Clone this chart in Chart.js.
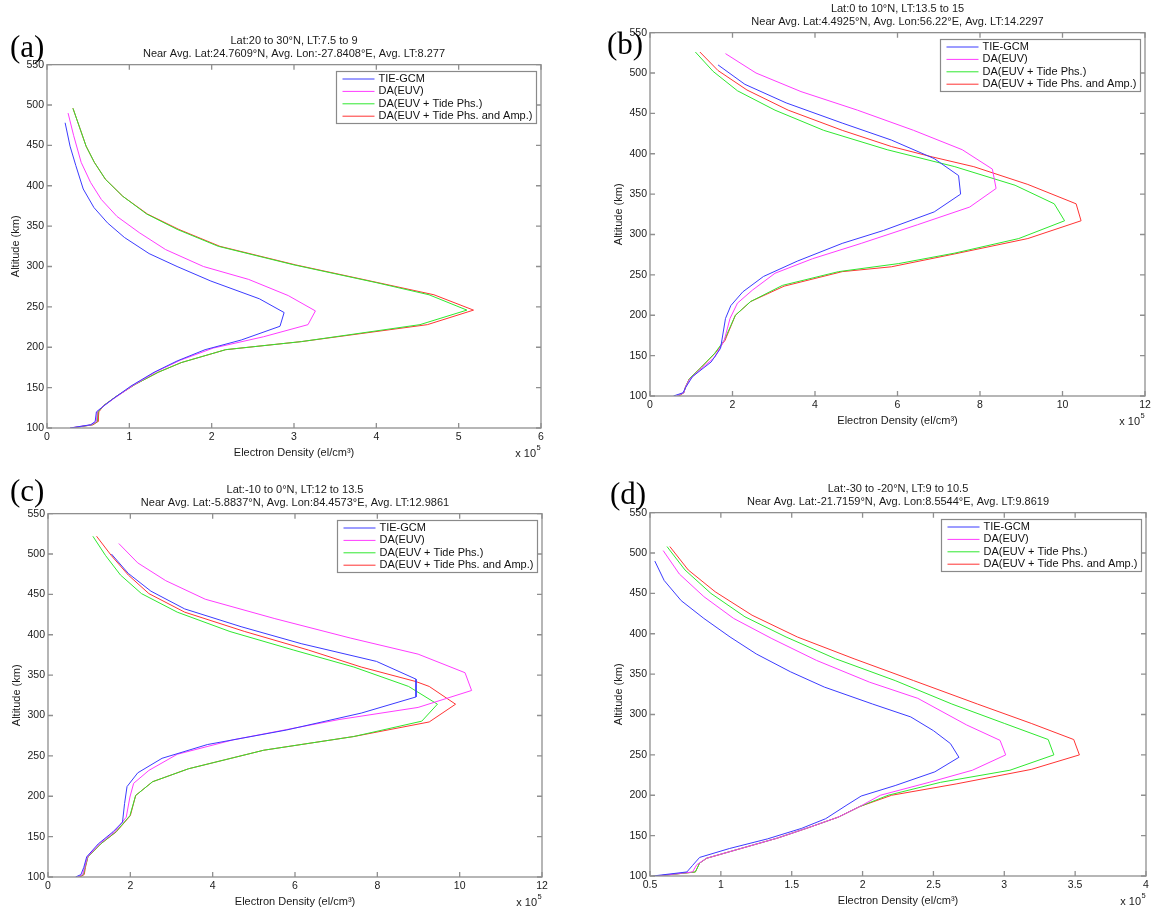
<!DOCTYPE html>
<html>
<head>
<meta charset="utf-8">
<title>Electron density profiles</title>
<script src="https://cdn.jsdelivr.net/npm/chart.js@4.4.1/dist/chart.umd.min.js"></script>
<style>
  html, body { margin: 0; padding: 0; background: #fff; }
  body { position: relative; width: 1167px; height: 912px; overflow: hidden; }
  canvas { position: absolute; }
  .tag { position: absolute; font-family: "Liberation Serif", "Times New Roman", serif; font-size: 31px; line-height: 1; color: #000; }
</style>
</head>
<body>
<canvas id="panelA" width="560" height="438" style="left:0px;top:32px"></canvas>
<canvas id="panelB" width="567" height="438" style="left:600px;top:0px"></canvas>
<canvas id="panelC" width="560" height="438" style="left:0px;top:481px"></canvas>
<canvas id="panelD" width="567" height="438" style="left:600px;top:480px"></canvas>
<div class="tag" style="left:10px;top:31px">(a)</div>
<div class="tag" style="left:607px;top:28px">(b)</div>
<div class="tag" style="left:10px;top:475px">(c)</div>
<div class="tag" style="left:610px;top:478px">(d)</div>

<script>
const seriesLabels = ['TIE-GCM', 'DA(EUV)', 'DA(EUV + Tide Phs.)', 'DA(EUV + Tide Phs. and Amp.)'];
const seriesColors = ['#3b3bff', '#ff3bff', '#2fe82f', '#ff3333'];

// profiles: [electron density (x 10^5 el/cm3), altitude (km)]
// (a) Lat 20 to 30N
const aTieGcm = [[0.22,478],[0.28,449],[0.35,425],[0.44,396],[0.57,373],[0.735,354],[0.94,336],[1.24,316],[1.58,300],[1.99,282],[2.58,260],[2.88,243],[2.83,226],[2.36,209],[1.92,197],[1.58,183],[1.30,169],[1.02,152],[0.80,136],[0.66,125],[0.60,120],[0.585,108],[0.53,104],[0.28,100]];
const aEuv = [[0.256,490],[0.324,462],[0.415,429],[0.53,404],[0.66,383],[0.85,362],[1.12,342],[1.44,321],[1.90,300],[2.45,284],[2.93,264],[3.26,245],[3.17,228],[2.63,213],[2.02,199],[1.62,184],[1.33,170],[1.05,153],[0.82,137],[0.67,126],[0.61,120],[0.60,108],[0.54,104],[0.28,100]];
const aTidePhs = [[0.315,496],[0.39,474],[0.475,449],[0.575,429],[0.71,408],[0.92,387],[1.21,365],[1.58,346],[2.08,325],[3.0,302],[4.0,280],[4.64,265],[5.10,246],[4.53,228],[3.09,207],[2.17,197],[1.63,181],[1.35,169],[1.07,154],[0.84,139],[0.69,128],[0.62,120],[0.61,108],[0.55,104],[0.30,100]];
const aTideAmp = [[0.315,496],[0.39,474],[0.475,449],[0.575,429],[0.71,408],[0.92,387],[1.22,365],[1.60,346],[2.10,325],[3.02,302],[4.02,280],[4.70,265],[5.18,246],[4.62,228],[3.09,207],[2.17,197],[1.63,181],[1.35,169],[1.07,154],[0.84,139],[0.69,128],[0.63,120],[0.62,108],[0.56,104],[0.30,100]];

// (b) Lat 0 to 10N
const bTieGcm = [[1.65,510],[2.30,486],[3.30,463],[4.66,438],[5.85,417],[6.89,394],[7.48,373],[7.53,350],[6.89,328],[5.66,305],[4.66,289],[3.57,267],[2.75,248],[2.25,229],[1.96,212],[1.83,196],[1.71,159],[1.48,142],[1.03,124],[0.87,111],[0.80,104],[0.57,100]];
const bEuv = [[1.83,524],[2.57,500],[3.66,477],[5.03,454],[6.39,429],[7.57,405],[8.30,381],[8.39,357],[7.75,334],[6.48,312],[5.12,289],[3.94,270],[3.03,252],[2.48,231],[2.12,215],[1.94,196],[1.80,169],[1.57,148],[1.20,132],[0.95,120],[0.86,111],[0.82,104],[0.65,100]];
const bTidePhs = [[1.10,526],[1.53,502],[2.12,478],[3.03,454],[4.21,429],[5.75,405],[7.39,384],[8.85,361],[9.80,338],[10.05,317],[8.94,295],[7.39,277],[6.03,264],[4.57,254],[3.21,237],[2.44,217],[2.07,200],[1.80,169],[1.57,153],[1.25,136],[0.95,121],[0.86,111],[0.82,104],[0.68,100]];
const bTideAmp = [[1.21,526],[1.65,503],[2.35,479],[3.35,454],[4.66,429],[5.85,409],[6.85,396],[7.85,384],[9.16,362],[10.33,338],[10.45,317],[9.16,295],[7.39,276],[5.85,260],[4.66,254],[3.25,236],[2.44,217],[2.07,200],[1.82,169],[1.58,153],[1.25,136],[0.95,121],[0.86,111],[0.82,104],[0.70,100]];

// (c) Lat -10 to 0N
const cTieGcm = [[1.54,500],[1.95,476],[2.50,454],[3.32,432],[4.69,410],[6.15,389],[7.98,367],[8.94,345],[8.94,323],[7.61,303],[5.79,282],[3.87,264],[2.77,247],[2.18,229],[1.92,212],[1.86,191],[1.81,168],[1.58,156],[1.22,141],[0.94,125],[0.87,112],[0.80,103],[0.67,100]];
const cEuv = [[1.72,513],[2.18,489],[2.86,467],[3.82,444],[5.51,420],[7.34,396],[8.99,376],[10.13,353],[10.29,331],[8.99,310],[7.07,295],[4.51,270],[3.14,252],[2.45,232],[2.08,216],[1.99,199],[1.90,174],[1.62,156],[1.25,141],[0.96,125],[0.89,112],[0.84,103],[0.72,100]];
const cTidePhs = [[1.09,522],[1.40,498],[1.76,474],[2.27,451],[3.14,428],[4.42,404],[5.97,381],[7.43,360],[8.76,336],[9.46,314],[9.08,293],[7.43,274],[5.24,257],[3.41,234],[2.54,218],[2.13,201],[1.99,176],[1.65,156],[1.28,141],[0.97,125],[0.90,112],[0.86,103],[0.75,100]];
const cTideAmp = [[1.18,522],[1.54,498],[1.95,474],[2.45,451],[3.32,428],[4.78,404],[6.33,381],[7.61,360],[8.94,342],[9.26,336],[9.90,314],[9.26,292],[7.43,274],[5.24,257],[3.41,234],[2.54,218],[2.13,201],[2.00,176],[1.66,156],[1.28,141],[0.97,125],[0.91,112],[0.88,103],[0.78,100]];

// (d) Lat -30 to -20N
const dTieGcm = [[0.534,490],[0.60,466],[0.72,441],[0.88,419],[1.065,396],[1.25,375],[1.49,353],[1.73,334],[2.07,313],[2.34,297],[2.50,280],[2.62,264],[2.68,247],[2.51,229],[2.23,212],[1.99,199],[1.89,188],[1.74,171],[1.57,159],[1.33,146],[1.06,134],[0.85,123],[0.80,113],[0.76,105],[0.52,100]];
const dEuv = [[0.593,503],[0.707,474],[0.88,446],[1.09,419],[1.36,394],[1.675,367],[2.05,340],[2.39,320],[2.735,287],[2.97,268],[3.01,250],[2.775,231],[2.47,216],[2.125,200],[1.98,186],[1.83,173],[1.62,160],[1.40,147],[1.12,133],[0.90,122],[0.83,114],[0.80,105],[0.55,100]];
const dTidePhs = [[0.62,508],[0.747,479],[0.93,450],[1.17,421],[1.46,396],[1.81,369],[2.23,342],[2.63,313],[3.0,289],[3.31,269],[3.35,250],[3.04,231],[2.55,216],[2.18,200],[1.98,186],[1.83,173],[1.62,160],[1.40,147],[1.12,133],[0.90,122],[0.85,116],[0.82,105],[0.55,100]];
const dTideAmp = [[0.64,508],[0.77,479],[0.96,452],[1.22,423],[1.54,396],[1.94,369],[2.36,342],[2.81,313],[3.19,289],[3.49,269],[3.53,250],[3.19,232],[2.66,214],[2.205,200],[1.98,186],[1.83,173],[1.62,160],[1.40,147],[1.12,133],[0.90,122],[0.85,116],[0.82,105],[0.55,100]];

const titleA = ['Lat:20 to 30°N, LT:7.5 to 9', 'Near Avg. Lat:24.7609°N, Avg. Lon:-27.8408°E, Avg. LT:8.277'];
const titleB = ['Lat:0 to 10°N, LT:13.5 to 15', 'Near Avg. Lat:4.4925°N, Avg. Lon:56.22°E, Avg. LT:14.2297'];
const titleC = ['Lat:-10 to 0°N, LT:12 to 13.5', 'Near Avg. Lat:-5.8837°N, Avg. Lon:84.4573°E, Avg. LT:12.9861'];
const titleD = ['Lat:-30 to -20°N, LT:9 to 10.5', 'Near Avg. Lat:-21.7159°N, Avg. Lon:8.5544°E, Avg. LT:9.8619'];

// x axis ranges [min, max, step] in units of 10^5
const xRangeA = [0, 6, 1];
const xRangeB = [0, 12, 2];
const xRangeC = [0, 12, 2];
const xRangeD = [0.5, 4, 0.5];
const altRange = [100, 550, 50];

const SANS = '"Liberation Sans", Arial, Helvetica, sans-serif';
Chart.defaults.font.family = SANS;
Chart.defaults.color = '#1a1a1a';

// box around the axes with inward ticks, the legend and the x10^5 multiplier
const matlabFrame = {
  id: 'matlabFrame',
  afterDatasetsDraw(chart) {
    const { ctx, chartArea, scales } = chart;
    const { left, top, right, bottom } = chartArea;
    ctx.save();
    ctx.strokeStyle = '#8f8f8f';
    ctx.lineWidth = 1.3;
    ctx.strokeRect(left, top, right - left, bottom - top);
    ctx.beginPath();
    scales.x.ticks.forEach(t => {
      const px = scales.x.getPixelForValue(t.value);
      ctx.moveTo(px, bottom); ctx.lineTo(px, bottom - 5);
      ctx.moveTo(px, top); ctx.lineTo(px, top + 5);
    });
    scales.y.ticks.forEach(t => {
      const py = scales.y.getPixelForValue(t.value);
      ctx.moveTo(left, py); ctx.lineTo(left + 5, py);
      ctx.moveTo(right, py); ctx.lineTo(right - 5, py);
    });
    ctx.stroke();

    // legend
    const boxW = 200, boxH = 52;
    const bx = Math.round(right - 5 - boxW), by = Math.round(top + 6);
    ctx.fillStyle = '#fff';
    ctx.fillRect(bx, by, boxW, boxH);
    ctx.strokeStyle = '#8a8a8a';
    ctx.lineWidth = 1.2;
    ctx.strokeRect(bx + 0.5, by + 0.5, boxW, boxH);
    ctx.font = '11px ' + SANS;
    ctx.textBaseline = 'middle';
    ctx.textAlign = 'left';
    chart.data.datasets.forEach((ds, i) => {
      const ly = by + 8 + i * 12.4;
      ctx.strokeStyle = ds.borderColor;
      ctx.lineWidth = 1;
      ctx.beginPath();
      ctx.moveTo(bx + 6.5, ly);
      ctx.lineTo(bx + 38.5, ly);
      ctx.stroke();
      ctx.fillStyle = '#111';
      ctx.fillText(ds.label, bx + 42.5, ly);
    });

    ctx.fillStyle = '#1a1a1a';
    ctx.textAlign = 'right';
    ctx.fillText('x 10', right - 5, bottom + 25.5);
    ctx.textAlign = 'left';
    ctx.font = '7.5px ' + SANS;
    ctx.fillText('5', right - 4.5, bottom + 19.5);
    ctx.restore();
  }
};

function makePanel(id, title, series, xRange, pad) {
  new Chart(document.getElementById(id), {
    type: 'scatter',
    data: {
      datasets: series.map((pts, i) => ({
        label: seriesLabels[i],
        data: pts.map(p => ({ x: p[0], y: p[1] })),
        showLine: true,
        borderColor: seriesColors[i],
        borderWidth: 1,
        pointRadius: 0,
        fill: false,
        tension: 0
      }))
    },
    options: {
      responsive: false,
      animation: false,
      events: [],
      layout: { padding: { left: pad[0], right: pad[1], top: 0, bottom: 8 } },
      plugins: {
        legend: { display: false },
        tooltip: { enabled: false },
        title: {
          display: true,
          text: title,
          fullSize: false,
          color: '#1a1a1a',
          font: { size: 11, weight: 'normal', lineHeight: 1.12 },
          padding: { top: 3, bottom: 5 }
        }
      },
      scales: {
        x: {
          type: 'linear',
          min: xRange[0],
          max: xRange[1],
          grid: { display: false, drawTicks: false },
          border: { display: false },
          ticks: { stepSize: xRange[2], padding: 3, font: { size: 10.5 }, color: '#1a1a1a', callback: v => String(v) },
          title: { display: true, text: 'Electron Density (el/cm³)', font: { size: 11 }, color: '#1a1a1a', padding: { top: 0, bottom: 2 } },
          afterFit: scale => { scale.height = 34; }
        },
        y: {
          type: 'linear',
          min: altRange[0],
          max: altRange[1],
          grid: { display: false, drawTicks: false },
          border: { display: false },
          ticks: { stepSize: altRange[2], padding: 3, font: { size: 10.5 }, color: '#1a1a1a', callback: v => String(v) },
          title: { display: true, text: 'Altitude (km)', font: { size: 11 }, color: '#1a1a1a', padding: 0 },
          afterFit: scale => { scale.width = 38; }
        }
      }
    },
    plugins: [matlabFrame]
  });
}

makePanel('panelA', titleA, [aTieGcm, aEuv, aTidePhs, aTideAmp], xRangeA, [9, 19]);
makePanel('panelB', titleB, [bTieGcm, bEuv, bTidePhs, bTideAmp], xRangeB, [12, 22]);
makePanel('panelC', titleC, [cTieGcm, cEuv, cTidePhs, cTideAmp], xRangeC, [10, 18]);
makePanel('panelD', titleD, [dTieGcm, dEuv, dTidePhs, dTideAmp], xRangeD, [12, 21]);
</script>
</body>
</html>
